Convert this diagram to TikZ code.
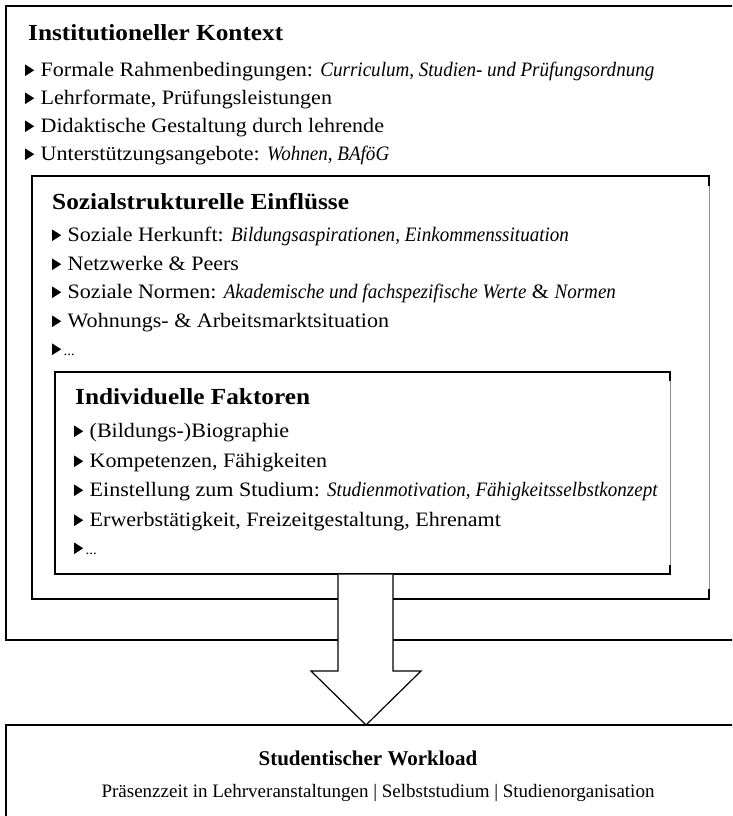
\documentclass[tikz,border=0pt]{standalone}
\usepackage{fontspec}
\setmainfont{Liberation Serif}
\newfontfamily\itemfont{Liberation Serif}[FakeStretch=1.075, ItalicFeatures={FakeStretch=0.93}, BoldFeatures={FakeStretch=1.1}]
\newcommand\bul{\tikz[baseline=0pt,x=1pt,y=1pt]\fill[black] (0,0)--(0,11.5)--(9,5.75)--cycle;}
\newcommand\bulgap{\bul\hspace{6.5pt}}
\newcommand\moredots{\bul{\fontsize{14}{14}\selectfont\,...}}
\tikzset{
  outerbox/.style={draw=black, line width=2pt},
  boxedge/.style={draw=black, line width=1.3pt},
  grayedge/.style={draw=black!45, line width=0.9pt},
  cornertick/.style={draw=black, line width=1.6pt},
  itemtxt/.style={anchor=base west, inner sep=0pt, font=\itemfont\fontsize{20.5}{23}\selectfont},
  headtxt/.style={anchor=base west, inner sep=0pt, font=\itemfont\fontsize{23}{26}\selectfont\bfseries},
  centertxt/.style={anchor=base, inner sep=0pt, font=\fontsize{19}{22}\selectfont},
  bigarrow/.style={draw=black, fill=white, line width=1.2pt, line join=miter},
}
\begin{document}
\begin{tikzpicture}[x=1pt,y=-1pt]
\useasboundingbox (0,0) rectangle (732,816);
\clip (0,0) rectangle (732,816);
% outer box: institutional context
\draw[outerbox] (6,6) rectangle (745,640);
% box 2: social-structural influences
\draw[boxedge] (709,176) -- (32,176) -- (32,599) -- (709,599);
\draw[grayedge] (709,176) -- (709,599);
\draw[cornertick] (709,175.4) -- (709,186);
\draw[cornertick] (709,589) -- (709,599.6);
% box 3: individual factors
\draw[boxedge] (670,372) -- (55,372) -- (55,574) -- (670,574);
\draw[grayedge] (670,372) -- (670,574);
\draw[cornertick] (670,371.4) -- (670,381);
\draw[cornertick] (670,565) -- (670,574.6);
% bottom box: workload
\draw[outerbox] (6,725) rectangle (745,840);
% block arrow
\coordinate (arrowtop) at (366,574.7);
\coordinate (arrowtip) at (366,725);
\draw[bigarrow] (338,574.7) -- (338,671) -- (311,671) -- (arrowtip) -- (421,671) -- (393,671) -- (393,574.7);

% texts box 1
\node[headtxt] (h1) at (28,41) {Institutioneller Kontext};
\node[itemtxt] (a1) at (25,76) {\bulgap Formale Rahmenbedingungen: \textit{Curriculum, Studien- und Prüfungsordnung}};
\node[itemtxt] (a2) at (25,104) {\bulgap Lehrformate, Prüfungsleistungen};
\node[itemtxt] (a3) at (25,132) {\bulgap Didaktische Gestaltung durch lehrende};
\node[itemtxt] (a4) at (25,160) {\bulgap Unterstützungsangebote: \textit{Wohnen, BAföG}};
% texts box 2
\node[headtxt] (h2) at (52,209) {Sozialstrukturelle Einflüsse};
\node[itemtxt] (b1) at (52,241) {\bulgap Soziale Herkunft: \textit{Bildungsaspirationen, Einkommenssituation}};
\node[itemtxt] (b2) at (52,270) {\bulgap Netzwerke \& Peers};
\node[itemtxt] (b3) at (52,298) {\bulgap Soziale Normen: \textit{Akademische und fachspezifische Werte} \& \textit{Normen}};
\node[itemtxt] (b4) at (52,327) {\bulgap Wohnungs- \& Arbeitsmarktsituation};
\node[itemtxt] (b5) at (52,355) {\moredots};
% texts box 3
\node[headtxt] (h3) at (75,404) {Individuelle Faktoren};
\node[itemtxt] (c1) at (74,437) {\bulgap (Bildungs-)Biographie};
\node[itemtxt] (c2) at (74,467) {\bulgap Kompetenzen, Fähigkeiten};
\node[itemtxt] (c3) at (74,496) {\bulgap Einstellung zum Studium: \textit{Studienmotivation, Fähigkeitsselbstkonzept}};
\node[itemtxt] (c4) at (74,526) {\bulgap Erwerbstätigkeit, Freizeitgestaltung, Ehrenamt};
\node[itemtxt] (c5) at (74,554) {\moredots};
% bottom texts
\node[centertxt, font=\fontsize{21}{24}\selectfont\bfseries] (w1) at (368,765) {Studentischer Workload};
\node[centertxt] (w2) at (378,797) {Präsenzzeit in Lehrveranstaltungen | Selbststudium | Studienorganisation};
\end{tikzpicture}
\end{document}
